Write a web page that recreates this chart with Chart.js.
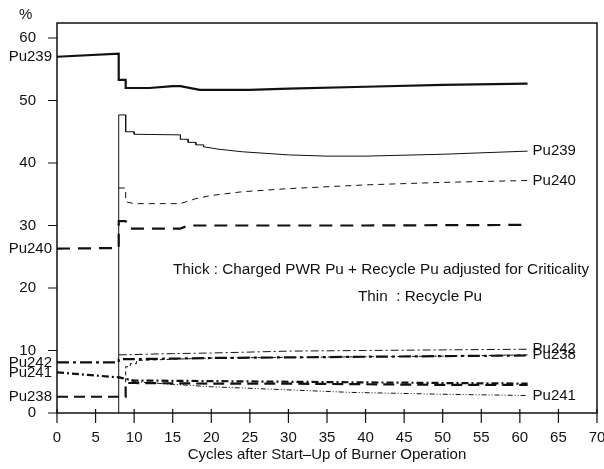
<!DOCTYPE html>
<html>
<head>
<meta charset="utf-8">
<script src="https://cdn.jsdelivr.net/npm/chart.js@4/dist/chart.umd.min.js"></script>
<style>
  html, body { margin: 0; padding: 0; background: #fff; overflow: hidden; }
  canvas { display: block; }
</style>
</head>
<body>
<canvas id="grafico" width="604" height="469"></canvas>
<script>
// Ciclos (eje x) y porcentaje (eje y) de cada isótopo
const xTicks = [0, 5, 10, 15, 20, 25, 30, 35, 40, 45, 50, 55, 60, 65, 70];
const yTicks = [0, 10, 20, 30, 40, 50, 60];

// Pu cargado (líneas gruesas)
const pu239ChargedX = [0, 8, 8, 8.9, 8.9, 12, 15, 16, 18.5, 25, 30, 40, 50, 61];
const pu239ChargedY = [57.0, 57.5, 53.3, 53.3, 52.0, 52.0, 52.3, 52.3, 51.7, 51.7, 51.9, 52.2, 52.5, 52.7];
const pu240ChargedX = [0, 8, 8, 8.9, 9.5, 16, 17, 20, 40, 61];
const pu240ChargedY = [26.3, 26.4, 30.7, 30.7, 29.5, 29.5, 30.0, 30.0, 30.0, 30.1];
const pu242ChargedX = [0, 8, 8, 15, 20, 30, 40, 50, 61];
const pu242ChargedY = [8.1, 8.1, 8.6, 8.7, 8.8, 8.9, 9.0, 9.1, 9.2];
const pu241ChargedX = [0, 4, 8, 10, 20, 30, 40, 50, 61];
const pu241ChargedY = [6.5, 6.1, 5.7, 5.2, 5.1, 5.0, 4.9, 4.8, 4.7];
const pu238ChargedX = [0, 8.9, 8.9, 10, 20, 30, 40, 50, 61];
const pu238ChargedY = [2.6, 2.6, 4.8, 4.8, 4.7, 4.7, 4.6, 4.5, 4.5];

// Pu reciclado (líneas finas)
const pu239RecycleX = [8, 8, 8.9, 8.9, 10, 10, 16, 16, 17, 17, 18, 18, 19, 19, 21, 24, 30, 35, 40, 50, 61];
const pu239RecycleY = [0, 47.7, 47.7, 45.0, 45.0, 44.6, 44.5, 43.8, 43.8, 43.3, 43.3, 42.9, 42.9, 42.6, 42.2, 41.8, 41.3, 41.1, 41.1, 41.4, 41.9];
const pu240RecycleX = [8, 8.9, 8.9, 10, 16, 18, 20, 24, 30, 40, 50, 61];
const pu240RecycleY = [36.0, 36.0, 33.8, 33.5, 33.5, 34.3, 34.8, 35.4, 35.9, 36.5, 36.9, 37.2];
const pu242RecycleX = [8, 15, 20, 30, 40, 50, 61];
const pu242RecycleY = [9.3, 9.5, 9.6, 9.9, 10.0, 10.1, 10.2];
const pu238RecycleX = [8.9, 8.9, 9.5, 9.5, 10.3, 10.3, 15, 20, 30, 40, 50, 61];
const pu238RecycleY = [4.9, 7.4, 7.4, 7.9, 7.9, 8.4, 8.6, 8.8, 8.9, 9.0, 9.1, 9.3];
const pu241RecycleX = [8, 10, 15, 20, 30, 38, 50, 61];
const pu241RecycleY = [5.8, 5.0, 4.6, 4.2, 3.7, 3.3, 3.0, 2.8];

const FUENTE = '"Liberation Sans", Arial, sans-serif';
const TINTA = '#111';

function puntos(xs, ys) {
    return xs.map((x, i) => ({ x: x, y: ys[i] }));
}

function serie(xs, ys, grosor, guiones, etiquetaIzq, etiquetaDer) {
    return {
        data: puntos(xs, ys),
        borderColor: TINTA,
        borderWidth: grosor,
        borderDash: guiones,
        pointRadius: 0,
        tension: 0,
        fill: false,
        etiquetaIzq: etiquetaIzq,
        etiquetaDer: etiquetaDer
    };
}

const datasets = [
    serie(pu239ChargedX, pu239ChargedY, 2.2, [], 'Pu239', null),
    serie(pu240ChargedX, pu240ChargedY, 2.2, [13, 8], 'Pu240', null),
    serie(pu242ChargedX, pu242ChargedY, 2.2, [12, 4, 3, 4], 'Pu242', null),
    serie(pu241ChargedX, pu241ChargedY, 2.2, [7, 3, 2, 3], 'Pu241', null),
    serie(pu238ChargedX, pu238ChargedY, 2.2, [11, 6], 'Pu238', null),
    serie(pu239RecycleX, pu239RecycleY, 1, [], null, 'Pu239'),
    serie(pu240RecycleX, pu240RecycleY, 1, [6, 5], null, 'Pu240'),
    serie(pu242RecycleX, pu242RecycleY, 1, [8, 3, 2, 3], null, 'Pu242'),
    serie(pu238RecycleX, pu238RecycleY, 1, [4, 3], null, 'Pu238'),
    serie(pu241RecycleX, pu241RecycleY, 1, [5, 2, 1, 2, 1, 2], null, 'Pu241')
];

// 🔹 Marco, marcas de los ejes y textos sobre el lienzo
const marcoYTextos = {
    id: 'marcoYTextos',
    afterDraw(chart) {
        const ctx = chart.ctx;
        const area = chart.chartArea;
        const sx = chart.scales.x;
        const sy = chart.scales.y;
        ctx.save();
        ctx.strokeStyle = TINTA;
        ctx.lineWidth = 1.5;
        ctx.setLineDash([]);
        ctx.strokeRect(area.left, area.top, area.right - area.left, area.bottom - area.top);

        ctx.lineWidth = 1.2;
        ctx.beginPath();
        xTicks.forEach(v => {
            const px = sx.getPixelForValue(v);
            ctx.moveTo(px, area.bottom - 4);
            ctx.lineTo(px, area.bottom + 10);
        });
        yTicks.forEach(v => {
            const py = sy.getPixelForValue(v);
            ctx.moveTo(area.left - 9, py);
            ctx.lineTo(area.left, py);
        });
        ctx.stroke();

        ctx.fillStyle = TINTA;
        ctx.font = '15px ' + FUENTE;
        ctx.textBaseline = 'middle';

        // Nombres de isótopo a la izquierda y a la derecha de las curvas
        chart.data.datasets.forEach(ds => {
            if (ds.etiquetaIzq) {
                const p = ds.data[0];
                ctx.textAlign = 'right';
                ctx.fillText(ds.etiquetaIzq, area.left - 5, sy.getPixelForValue(p.y));
            }
            if (ds.etiquetaDer) {
                const p = ds.data[ds.data.length - 1];
                ctx.textAlign = 'left';
                ctx.fillText(ds.etiquetaDer, sx.getPixelForValue(p.x) + 5, sy.getPixelForValue(p.y));
            }
        });

        ctx.textAlign = 'left';
        ctx.fillText('%', 19, 15);
        ctx.font = '15.3px ' + FUENTE;
        ctx.fillText('Thick : Charged PWR Pu + Recycle Pu adjusted for Criticality', 173, 270);
        ctx.fillText('Thin  : Recycle Pu', 358, 297);

        ctx.font = '15px ' + FUENTE;
        ctx.textAlign = 'center';
        ctx.fillText('Cycles after Start\u2013Up of Burner Operation', (area.left + area.right) / 2, 455);
        ctx.restore();
    }
};

const ctx = document.getElementById('grafico').getContext('2d');
const chartInstance = new Chart(ctx, {
    type: 'line',
    data: { datasets: datasets },
    options: {
        responsive: false,
        animation: false,
        events: [],
        layout: { padding: { top: 23, right: 7, left: 0, bottom: 0 } },
        plugins: {
            legend: { display: false },
            tooltip: { enabled: false }
        },
        scales: {
            x: {
                type: 'linear',
                min: 0,
                max: 70,
                afterBuildTicks: scale => { scale.ticks = xTicks.map(v => ({ value: v })); },
                afterFit: scale => {
                    scale.height = 56;
                    scale.paddingLeft = 0;
                    scale.paddingRight = 0;
                },
                grid: { display: false },
                border: { display: false },
                ticks: {
                    color: TINTA,
                    font: { family: FUENTE, size: 15 },
                    padding: 8,
                    maxRotation: 0,
                    autoSkip: false
                }
            },
            y: {
                type: 'linear',
                min: 0,
                max: 62.4,
                afterBuildTicks: scale => { scale.ticks = yTicks.map(v => ({ value: v })); },
                afterFit: scale => {
                    scale.width = 57;
                    scale.paddingTop = 0;
                    scale.paddingBottom = 0;
                },
                grid: { display: false },
                border: { display: false },
                ticks: {
                    color: TINTA,
                    font: { family: FUENTE, size: 15 },
                    padding: 13
                }
            }
        }
    },
    plugins: [marcoYTextos]
});
</script>
</body>
</html>
